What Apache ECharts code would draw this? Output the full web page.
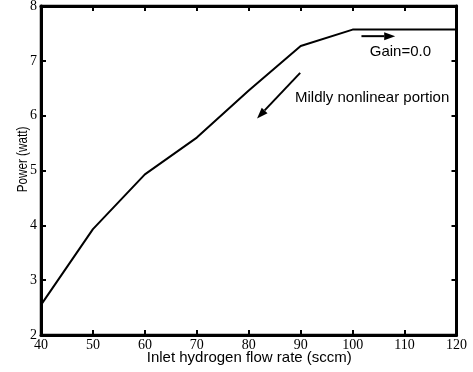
<!DOCTYPE html>
<html>
<head>
<meta charset="utf-8">
<script src="https://cdn.jsdelivr.net/npm/echarts@6/dist/echarts.min.js"></script>
<style>html,body{margin:0;padding:0;background:#fff;}#c{width:473px;height:372px;}</style>
</head>
<body>
<div id="c"></div>
<script>
const flowRate = [40, 50, 60, 70, 80, 90, 100, 110, 120];
const power = [2.55, 3.93, 4.93, 5.6, 6.46, 7.27, 7.57, 7.57, 7.57];
const xTitle = 'Inlet hydrogen flow rate (sccm)';
const yTitle = 'Power (watt)';
const gainArrow = [[101.7, 7.45], [108.2, 7.45]];
const nonlinArrow = [[89.9, 6.78], [81.6, 5.95]];
const gainText = {x: 103.3, y: 7.17, text: 'Gain=0.0'};
const nonlinText = {x: 88.9, y: 6.33, text: 'Mildly nonlinear portion'};

const chart = echarts.init(document.getElementById('c'));
function axisCommon(pos, showLabel) {
  return {
    position: pos,
    axisLine: {show: true, lineStyle: {color: '#000', width: 3}},
    axisTick: {show: true, inside: true, length: 5, lineStyle: {color: '#000', width: 2}},
    splitLine: {show: false},
    axisLabel: showLabel ? {show: true, fontFamily: 'Liberation Serif', fontSize: 14, color: '#000', margin: pos === 'left' ? 4 : 3} : {show: false}
  };
}
const xb = Object.assign({type: 'value', min: 40, max: 120, interval: 10}, axisCommon('bottom', true));
const xt = Object.assign({type: 'value', min: 40, max: 120, interval: 10}, axisCommon('top', false));
const yl = Object.assign({type: 'value', min: 2, max: 8, interval: 1}, axisCommon('left', true));
const yr = Object.assign({type: 'value', min: 2, max: 8, interval: 1}, axisCommon('right', false));

chart.setOption({
  animation: false,
  grid: {left: 41, right: 16.5, top: 6, bottom: 37, outerBoundsMode: 'none', containLabel: false,
    show: true, borderColor: '#000', borderWidth: 2.5, backgroundColor: 'transparent'},
  xAxis: [xb, xt],
  yAxis: [yl, yr],
  series: [{
    type: 'line', xAxisIndex: 0, yAxisIndex: 0, symbol: 'none',
    data: flowRate.map((x, i) => [x, power[i]]),
    lineStyle: {color: '#000', width: 2}
  }]
});

const toPx = p => chart.convertToPixel({xAxisIndex: 0, yAxisIndex: 0}, p);
function arrowEls(sd, ed) {
  const s = toPx(sd), e = toPx(ed);
  const dx = e[0] - s[0], dy = e[1] - s[1];
  const L = Math.sqrt(dx * dx + dy * dy);
  const ux = dx / L, uy = dy / L, nx = -uy, ny = ux;
  const hl = 11, hw = 4;
  const bx = e[0] - ux * hl, by = e[1] - uy * hl;
  return [
    {type: 'line', shape: {x1: s[0], y1: s[1], x2: bx, y2: by}, style: {stroke: '#000', lineWidth: 2}},
    {type: 'polygon', shape: {points: [[e[0], e[1]], [bx + nx * hw, by + ny * hw], [bx - nx * hw, by - ny * hw]]}, style: {fill: '#000'}}
  ];
}
const gp = toPx([gainText.x, gainText.y]);
const np = toPx([nonlinText.x, nonlinText.y]);
const mid = toPx([80, 2]);
const midY = toPx([40, 5]);
chart.setOption({
  graphic: arrowEls(gainArrow[0], gainArrow[1]).concat(arrowEls(nonlinArrow[0], nonlinArrow[1])).concat([
    {type: 'text', x: gp[0], y: gp[1], style: {text: gainText.text, fill: '#000', font: '15px "Liberation Sans"', align: 'left', verticalAlign: 'middle'}},
    {type: 'text', x: np[0], y: np[1], style: {text: nonlinText.text, fill: '#000', font: '15px "Liberation Sans"', align: 'left', verticalAlign: 'middle'}},
    {type: 'text', x: mid[0] + 0.5, y: mid[1] + 23, style: {text: xTitle, fill: '#000', font: '15px "Liberation Sans"', align: 'center', verticalAlign: 'middle'}},
    {type: 'text', x: 23, y: midY[1] - 11, rotation: Math.PI / 2, scaleX: 0.78,
      style: {text: yTitle, fill: '#000', font: '15px "Liberation Sans"', align: 'center', verticalAlign: 'middle'}}
  ])
});
</script>
</body>
</html>
